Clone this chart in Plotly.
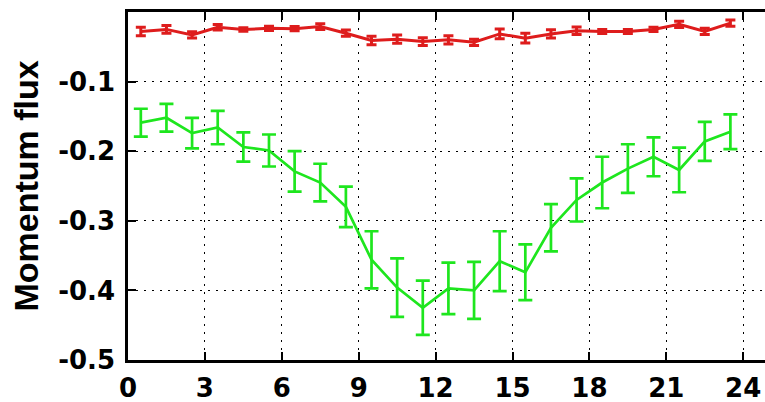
import plotly.graph_objects as go

# Hour-of-day bins (centres) and momentum flux with error estimates
hours = [0.5, 1.5, 2.5, 3.5, 4.5, 5.5, 6.5, 7.5, 8.5, 9.5, 10.5, 11.5,
         12.5, 13.5, 14.5, 15.5, 16.5, 17.5, 18.5, 19.5, 20.5, 21.5, 22.5, 23.5]

flux_green = [-0.159, -0.152, -0.174, -0.166, -0.194, -0.199, -0.229, -0.245,
              -0.280, -0.356, -0.396, -0.425, -0.397, -0.400, -0.358, -0.374,
              -0.310, -0.270, -0.245, -0.225, -0.208, -0.227, -0.186, -0.172]
err_green = [0.020, 0.020, 0.022, 0.024, 0.021, 0.023, 0.029, 0.027,
             0.029, 0.041, 0.042, 0.039, 0.037, 0.041, 0.043, 0.040,
             0.034, 0.031, 0.037, 0.035, 0.028, 0.032, 0.028, 0.025]

flux_red = [-0.028, -0.025, -0.033, -0.022, -0.025, -0.0235, -0.024, -0.021,
            -0.0305, -0.041, -0.039, -0.0425, -0.040, -0.0435, -0.0315, -0.0377,
            -0.0315, -0.027, -0.028, -0.028, -0.025, -0.0177, -0.028, -0.016]
err_red = [0.006, 0.0055, 0.0045, 0.004, 0.0025, 0.003, 0.003, 0.004,
           0.0045, 0.006, 0.006, 0.0055, 0.006, 0.0045, 0.007, 0.007,
           0.006, 0.0055, 0.003, 0.003, 0.003, 0.0045, 0.0045, 0.0045]

x_ticks = [0, 3, 6, 9, 12, 15, 18, 21, 24]
y_ticks = [-0.1, -0.2, -0.3, -0.4, -0.5]
y_tick_text = ["-0.1", "-0.2", "-0.3", "-0.4", "-0.5"]

GREEN = "rgb(30,230,30)"
RED = "rgb(222,28,28)"

fig = go.Figure()

fig.add_trace(go.Scatter(
    x=hours, y=flux_red, mode="lines",
    line=dict(color=RED, width=3),
    error_y=dict(type="data", array=err_red, visible=True,
                 color=RED, thickness=3, width=5),
    showlegend=False,
))

fig.add_trace(go.Scatter(
    x=hours, y=flux_green, mode="lines",
    line=dict(color=GREEN, width=2.7),
    error_y=dict(type="data", array=err_green, visible=True,
                 color=GREEN, thickness=2.7, width=7),
    showlegend=False,
))

tick_font = dict(family="DejaVu Sans", size=26, color="black", weight="bold")

fig.update_layout(
    width=765, height=402,
    margin=dict(l=128, r=0, t=12, b=42),
    paper_bgcolor="white", plot_bgcolor="white",
    xaxis=dict(
        range=[0, 24.85],
        tickvals=x_ticks,
        ticktext=[str(v) for v in x_ticks],
        tickfont=tick_font,
        ticks="inside", ticklen=8, tickwidth=2, tickcolor="black",
        showline=True, linecolor="black", linewidth=2.5, mirror="ticks",
        showgrid=True, gridcolor="black", gridwidth=1, griddash="2px,6px",
        zeroline=False,
        ticklabelstandoff=3,
    ),
    yaxis=dict(
        range=[-0.5, 0],
        tickvals=y_ticks,
        ticktext=y_tick_text,
        tickfont=tick_font,
        ticks="inside", ticklen=8, tickwidth=2, tickcolor="black",
        showline=True, linecolor="black", linewidth=2.5,
        showgrid=True, gridcolor="black", gridwidth=1, griddash="2px,6px",
        zeroline=False,
        ticklabelstandoff=5,
        title=dict(text="Momentum flux", standoff=10,
                   font=dict(family="Liberation Sans", size=34,
                             color="black", weight="bold")),
    ),
)

fig.write_html("out.html")
